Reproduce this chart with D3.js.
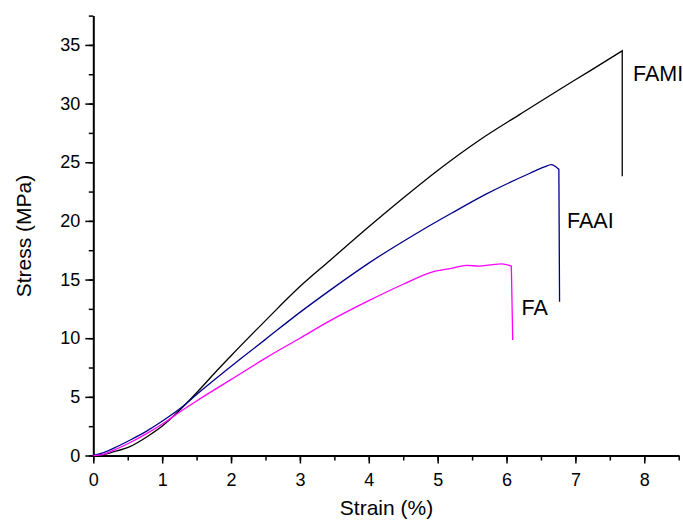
<!DOCTYPE html>
<html>
<head>
<meta charset="utf-8">
<script src="https://cdn.jsdelivr.net/npm/d3@7"></script>
<style>
  body { margin: 0; background: #fff; }
  text { font-family: Arial, "Liberation Sans", sans-serif; fill: #000; }
</style>
</head>
<body>
<div id="chart"></div>
<script>

// --> DATA (strain %, stress MPa)
// the last point of each series is the break (vertical drop)
var famiStrain = [0, 0.15, 0.29, 0.53, 0.78, 1.02, 1.26, 1.5, 1.75, 2.0, 2.5, 3.0, 3.44, 4.0, 4.5, 5.0, 5.61, 6.2, 6.77, 7.2, 7.68, 7.68];
var famiStress = [0, 0.08, 0.3, 0.75, 1.6, 2.6, 3.9, 5.35, 6.95, 8.5, 11.5, 14.4, 16.65, 19.5, 21.95, 24.3, 26.9, 29.1, 31.2, 32.75, 34.5, 23.8];

var faaiStrain = [0, 0.15, 0.29, 0.53, 0.78, 1.02, 1.26, 1.5, 2.13, 2.5, 3.0, 3.44, 4.0, 4.74, 5.2, 5.71, 6.34, 6.55, 6.65, 6.72, 6.76, 6.77];
var faaiStress = [0, 0.24, 0.6, 1.3, 2.1, 3.0, 4.0, 5.2, 8.2, 9.9, 12.2, 14.1, 16.4, 19.1, 20.65, 22.3, 24.06, 24.6, 24.8, 24.6, 24.4, 13.1];

var faStrain = [0, 0.15, 0.29, 0.53, 0.78, 1.02, 1.26, 1.5, 1.98, 2.5, 3.0, 3.44, 4.0, 4.5, 4.93, 5.2, 5.42, 5.61, 5.76, 5.93, 6.07, 6.09];
var faStress = [0, 0.1, 0.43, 1.09, 1.89, 2.75, 3.73, 4.65, 6.4, 8.3, 10.0, 11.5, 13.2, 14.6, 15.65, 15.95, 16.2, 16.15, 16.25, 16.33, 16.15, 9.85];

var seriesNames = ["FAMI", "FAAI", "FA"];
var seriesColors = ["#000000", "#00008b", "#ff00ff"];
var xTicks = [0, 1, 2, 3, 4, 5, 6, 7, 8];
var yTicks = [0, 5, 10, 15, 20, 25, 30, 35];

// --> SVG DRAWING AREA
var width = 683,
    height = 520;

var svg = d3.select("#chart").append("svg")
    .attr("width", width)
    .attr("height", height);

var x = d3.scaleLinear()
    .domain([0, 8.5])
    .range([93.3, 678.7]);

var y = d3.scaleLinear()
    .domain([0, 37.5])
    .range([455.5, 15.6]);

// minor ticks every half unit on x, 2.5 on y
var xMinor = d3.range(0, 8.51, 0.5);
var yMinor = d3.range(0, 37.51, 2.5);

svg.append("g")
    .attr("transform", "translate(0," + y(0) + ")")
    .call(d3.axisBottom(x).tickValues(xMinor).tickSize(5).tickFormat(""))
    .call(function(g) { g.select(".domain").remove(); })
    .selectAll("line").attr("stroke-width", 1.5);

svg.append("g")
    .attr("transform", "translate(" + x(0) + ",0)")
    .call(d3.axisLeft(y).tickValues(yMinor).tickSize(4.5).tickFormat(""))
    .call(function(g) { g.select(".domain").remove(); })
    .selectAll("line").attr("stroke-width", 1.5);

// major ticks + labels
var xAxis = svg.append("g")
    .attr("transform", "translate(0," + y(0) + ")")
    .call(d3.axisBottom(x).tickValues(xTicks).tickSize(8).tickSizeOuter(0).tickPadding(10));

var yAxis = svg.append("g")
    .attr("transform", "translate(" + x(0) + ",0)")
    .call(d3.axisLeft(y).tickValues(yTicks).tickSize(8).tickSizeOuter(0).tickPadding(5));

[xAxis, yAxis].forEach(function(a) {
    a.select(".domain").attr("stroke-width", 2);
    a.selectAll(".tick line").attr("stroke-width", 1.5);
    a.selectAll("text")
        .style("font-size", "18px")
        .style("font-family", "Arial, 'Liberation Sans', sans-serif");
});

// --> CURVES
// smooth rising part, then the straight break at the end
var smooth = d3.line()
    .curve(d3.curveMonotoneX)
    .x(function(d) { return x(d[0]); })
    .y(function(d) { return y(d[1]); });

var series = [
    d3.zip(famiStrain, famiStress),
    d3.zip(faaiStrain, faaiStress),
    d3.zip(faStrain, faStress)
];

svg.selectAll("path.curve")
    .data(series)
    .enter().append("path")
    .attr("class", "curve")
    .attr("d", function(d) {
        var n = d.length;
        return smooth(d.slice(0, n - 1)) + "L" + x(d[n - 1][0]) + "," + y(d[n - 1][1]);
    })
    .attr("fill", "none")
    .attr("stroke", function(d, i) { return seriesColors[i]; })
    .attr("stroke-width", 1.3);

// series labels
var labelPos = [[633, 80.7], [567, 227.5], [521.5, 315]];
svg.selectAll("text.label")
    .data(seriesNames)
    .enter().append("text")
    .attr("class", "label")
    .attr("x", function(d, i) { return labelPos[i][0]; })
    .attr("y", function(d, i) { return labelPos[i][1]; })
    .style("font-size", "21.5px")
    .text(function(d) { return d; });

// axis titles
svg.append("text")
    .attr("x", 386.5)
    .attr("y", 515)
    .attr("text-anchor", "middle")
    .style("font-size", "21px")
    .text("Strain (%)");

svg.append("text")
    .attr("transform", "translate(31,236) rotate(-90)")
    .attr("text-anchor", "middle")
    .style("font-size", "21px")
    .text("Stress (MPa)");

</script>
</body>
</html>
